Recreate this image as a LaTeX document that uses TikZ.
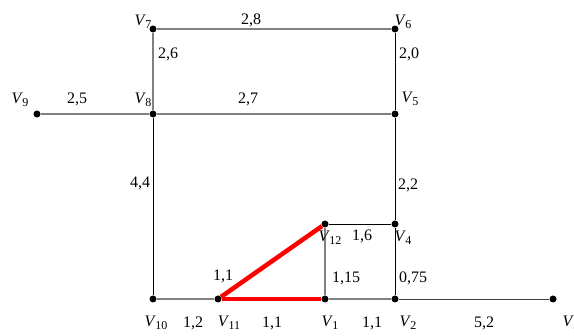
\documentclass[tikz,border=0pt]{standalone}
\usepackage{fontspec}
\setmainfont{Liberation Serif}
\newcommand{\vx}[1]{\textit{V}\kern-0.5pt\raisebox{-0.35ex}{\fontsize{12}{12}\selectfont #1}}
\begin{document}
\begin{tikzpicture}[x=1pt,y=-1pt,
 dot/.style={circle,fill=black,inner sep=0pt,minimum size=7pt},
 vname/.style={font=\fontsize{16}{18}\selectfont,inner sep=0pt},
 lab/.style={font=\fontsize{16}{18}\selectfont,inner sep=0pt},
 grayedge/.style={draw=black!50,line width=1.8pt},
 blackedge/.style={draw=black,line width=0.9pt},
 route/.style={draw=red,line width=4.5pt}]
\useasboundingbox (0,0) rectangle (574,336);
% vertices
\node[dot] (v7) at (153,29) {};
\node[dot] (v6) at (395,29) {};
\node[dot] (v9) at (37,114) {};
\node[dot] (v8) at (153,114) {};
\node[dot] (v5) at (395,114) {};
\node[dot] (v12) at (325,224) {};
\node[dot] (v4) at (395,224) {};
\node[dot] (v10) at (153,299) {};
\node[dot] (v11) at (218,299) {};
\node[dot] (v1) at (325,299) {};
\node[dot] (v2) at (395,299) {};
\node[dot] (v3) at (553,299) {};
% edges
\draw[grayedge] (v7) -- (v6);
\draw[grayedge] (v7) -- (v8);
\draw[grayedge] (v9) -- (v8);
\draw[grayedge] (v8) -- (v5);
\draw[grayedge] (v10) -- (v11);
\draw[grayedge] (v12) -- (v1);
\draw[grayedge] (v1) -- (v2);
\draw[blackedge] (v6) -- (v5);
\draw[blackedge] (v5) -- (v4);
\draw[blackedge] (v4) -- (v2);
\draw[blackedge] (v8) -- (v10);
\draw[blackedge] (v12) -- (v4);
\draw[blackedge,draw=black!75] (v2) -- (v3);
\draw[route] (v11) -- (v12);
\draw[route] (v11) -- (v1);
% vertex names
\node[vname] (n7) at (143,22) {\vx{7}};
\node[vname] (n6) at (403,22) {\vx{6}};
\node[vname] (n9) at (20,100) {\vx{9}};
\node[vname] (n8) at (143,100) {\vx{8}};
\node[vname] (n5) at (410,99) {\vx{5}};
\node[vname] (n12) at (330,238) {\vx{12}};
\node[vname] (n4) at (403,238) {\vx{4}};
\node[vname] (n10) at (156,323) {\vx{10}};
\node[vname] (n11) at (229,323) {\vx{11}};
\node[vname] (n1) at (330,323) {\vx{1}};
\node[vname] (n2) at (408,323) {\vx{2}};
\node[vname] (n3) at (571,323) {\vx{3}};
% edge weights
\node[lab] (w76) at (251,20) {2,8};
\node[lab] (w78) at (168,54) {2,6};
\node[lab] (w65) at (409,54) {2,0};
\node[lab] (w98) at (77,99) {2,5};
\node[lab] (w85) at (248,99) {2,7};
\node[lab] (w810) at (140,183) {4,4};
\node[lab] (w54) at (408,185) {2,2};
\node[lab] (w124) at (362,236) {1,6};
\node[lab] (w121) at (346,278) {1,15};
\node[lab] (w42) at (413,278) {0,75};
\node[lab] (w1112) at (223,276) {1,1};
\node[lab] (w1011) at (193,323) {1,2};
\node[lab] (w111) at (272,323) {1,1};
\node[lab] (w12) at (372,323) {1,1};
\node[lab] (w23) at (484,323) {5,2};
\end{tikzpicture}
\end{document}
